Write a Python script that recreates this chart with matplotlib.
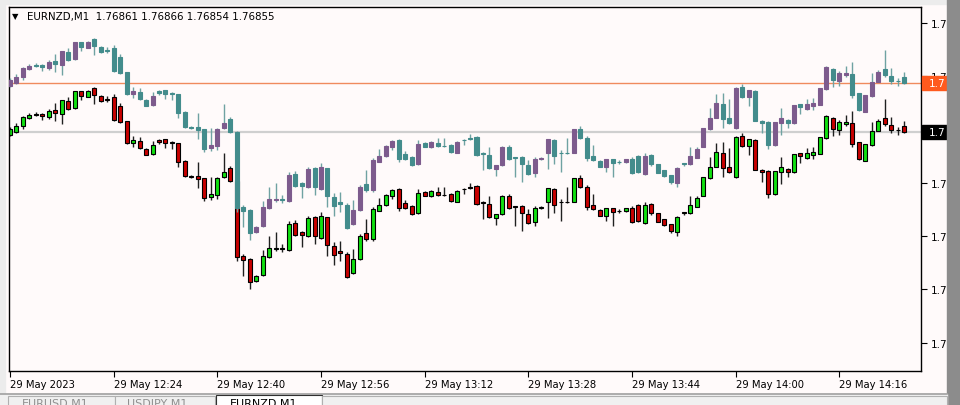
import numpy as np
import matplotlib.pyplot as plt
from matplotlib.patches import Rectangle
import matplotlib.transforms as mtransforms

W, H = 960, 406

# prices in points (0.00001) above 1.76000, one M1 bar per entry starting 12:08
# EURNZD (green / red candles)
lo_open = [852, 855, 861, 869, 873, 873, 870, 877, 873, 886,
           879, 896, 890, 899, 891, 888, 890, 881, 866, 844,
           846, 838, 833, 847, 848, 845, 844, 826, 811, 811,
           809, 790, 792, 810, 819, 806, 731, 728, 706, 712,
           730, 738, 739, 737, 764, 755, 751, 770, 749, 770,
           741, 736, 733, 714, 728, 754, 748, 776, 782, 791,
           798, 784, 781, 774, 795, 791, 795, 792, 793, 785,
           798, 800, 801, 785, 783, 769, 773, 791, 781, 781,
           773, 765, 779, 785, 798, 785, 785, 785, 809, 800,
           782, 777, 771, 779, 776, 776, 779, 782, 764, 783,
           774, 768, 763, 755, 775, 774, 780, 791, 809, 820,
           834, 820, 810, 851, 841, 847, 817, 816, 793, 815,
           818, 815, 834, 829, 832, 833, 849, 869, 857, 863,
           864, 845, 826, 842, 856, 869, 862, 857, 861]
lo_high = [860, 864, 871, 874, 875, 874, 878, 884, 887, 890,
           896, 896, 897, 900, 892, 891, 893, 884, 866, 851,
           850, 839, 846, 848, 848, 846, 844, 827, 812, 825,
           809, 810, 810, 834, 821, 807, 733, 729, 712, 737,
           751, 755, 743, 766, 767, 756, 771, 771, 775, 770,
           745, 746, 735, 738, 753, 768, 780, 789, 793, 798,
           799, 787, 782, 798, 796, 797, 800, 800, 794, 797,
           799, 804, 802, 786, 791, 773, 792, 793, 781, 782,
           778, 781, 781, 799, 799, 788, 800, 809, 812, 802,
           793, 778, 779, 779, 778, 779, 781, 783, 785, 784,
           774, 768, 763, 771, 775, 791, 791, 810, 830, 844,
           845, 839, 851, 854, 848, 848, 818, 817, 816, 830,
           819, 833, 834, 839, 840, 850, 872, 870, 867, 872,
           876, 845, 843, 865, 868, 888, 870, 860, 866]
lo_low = [851, 854, 858, 868, 871, 867, 868, 866, 863, 877,
          878, 887, 890, 883, 885, 885, 866, 864, 843, 840,
          838, 832, 832, 843, 839, 838, 820, 810, 809, 799,
          786, 787, 788, 809, 805, 726, 711, 698, 705, 711,
          729, 736, 735, 736, 751, 740, 750, 743, 748, 731,
          722, 726, 709, 713, 727, 746, 746, 776, 781, 788,
          776, 778, 772, 773, 791, 790, 791, 791, 785, 785,
          793, 798, 782, 768, 769, 762, 772, 778, 761, 756,
          763, 761, 778, 769, 774, 766, 784, 785, 799, 777,
          777, 771, 766, 761, 774, 775, 764, 765, 763, 772,
          765, 761, 754, 751, 772, 773, 780, 791, 808, 820,
          810, 814, 809, 840, 832, 817, 805, 789, 792, 803,
          810, 814, 824, 828, 828, 833, 848, 851, 852, 861,
          840, 827, 826, 841, 856, 861, 854, 852, 854]
lo_close = [858, 861, 870, 872, 872, 871, 876, 874, 887, 878,
            896, 891, 896, 892, 886, 887, 867, 865, 844, 847,
            839, 832, 842, 845, 844, 844, 825, 811, 810, 808,
            789, 793, 809, 815, 806, 730, 727, 705, 711, 731,
            739, 739, 738, 763, 752, 752, 769, 751, 771, 742,
            732, 734, 710, 728, 751, 748, 778, 782, 792, 797,
            779, 779, 773, 794, 791, 796, 792, 792, 786, 796,
            798, 799, 783, 784, 770, 773, 791, 779, 780, 774,
            764, 779, 780, 799, 782, 785, 785, 809, 800, 780,
            778, 771, 779, 775, 776, 779, 765, 766, 782, 774,
            765, 762, 756, 770, 774, 782, 789, 810, 820, 835,
            819, 815, 850, 841, 848, 817, 815, 793, 816, 820,
            815, 833, 831, 834, 835, 850, 871, 858, 865, 865,
            843, 828, 843, 856, 866, 863, 857, 857, 855]

# overlay symbol (purple / teal candles)
up_open = [901, 904, 910, 918, 922, 922, 919, 926, 922, 935,
           928, 945, 939, 948, 940, 937, 939, 930, 915, 893,
           895, 887, 882, 896, 897, 894, 893, 875, 860, 860,
           858, 839, 841, 859, 868, 855, 780, 777, 755, 761,
           779, 787, 788, 786, 813, 804, 800, 819, 798, 819,
           790, 785, 782, 763, 777, 803, 797, 825, 831, 840,
           847, 833, 830, 823, 844, 840, 844, 841, 842, 834,
           847, 849, 850, 834, 832, 818, 822, 840, 830, 830,
           822, 814, 828, 834, 847, 834, 834, 834, 858, 849,
           831, 826, 820, 828, 825, 825, 828, 831, 813, 832,
           823, 817, 812, 804, 824, 823, 829, 840, 858, 869,
           883, 869, 859, 900, 890, 896, 866, 865, 842, 864,
           867, 864, 883, 878, 881, 882, 898, 918, 906, 912,
           913, 894, 875, 891, 905, 918, 911, 906, 910]
up_high = [909, 913, 920, 923, 924, 923, 927, 933, 936, 939,
           945, 945, 946, 949, 941, 940, 942, 933, 915, 900,
           899, 888, 895, 897, 897, 895, 893, 876, 861, 874,
           858, 859, 859, 883, 870, 856, 782, 778, 761, 786,
           800, 804, 792, 815, 816, 805, 820, 820, 824, 819,
           794, 795, 784, 787, 802, 817, 829, 838, 842, 847,
           848, 836, 831, 847, 845, 846, 849, 849, 843, 846,
           848, 853, 851, 835, 840, 822, 841, 842, 830, 831,
           827, 830, 830, 848, 848, 837, 849, 858, 861, 851,
           842, 827, 828, 828, 827, 828, 830, 832, 834, 833,
           823, 817, 812, 820, 824, 840, 840, 859, 879, 893,
           894, 888, 900, 903, 897, 897, 867, 866, 865, 879,
           868, 882, 883, 888, 889, 899, 921, 919, 916, 921,
           925, 894, 892, 914, 917, 937, 919, 909, 915]
up_low = [900, 903, 907, 917, 920, 916, 917, 915, 912, 926,
          927, 936, 939, 932, 934, 934, 915, 913, 892, 889,
          887, 881, 881, 892, 888, 887, 869, 859, 858, 848,
          835, 836, 837, 858, 854, 775, 760, 747, 754, 760,
          778, 785, 784, 785, 800, 789, 799, 792, 797, 780,
          771, 775, 758, 762, 776, 795, 795, 825, 830, 837,
          825, 827, 821, 822, 840, 839, 840, 840, 834, 834,
          842, 847, 831, 817, 818, 811, 821, 827, 810, 805,
          812, 810, 827, 818, 823, 815, 833, 834, 848, 826,
          826, 820, 815, 810, 823, 824, 813, 814, 812, 821,
          814, 810, 803, 800, 821, 822, 829, 840, 857, 869,
          859, 863, 858, 889, 881, 866, 854, 838, 841, 852,
          859, 863, 873, 877, 877, 882, 897, 900, 901, 910,
          889, 876, 875, 890, 905, 910, 903, 901, 903]
up_close = [907, 910, 919, 921, 921, 920, 925, 923, 936, 927,
            945, 940, 945, 941, 935, 936, 916, 914, 893, 896,
            888, 881, 891, 894, 893, 893, 874, 860, 859, 857,
            838, 842, 858, 864, 855, 779, 776, 754, 760, 780,
            788, 788, 787, 812, 801, 801, 818, 800, 820, 791,
            781, 783, 759, 777, 800, 797, 827, 831, 841, 846,
            828, 828, 822, 843, 840, 845, 841, 841, 835, 845,
            847, 848, 832, 833, 819, 822, 840, 828, 829, 823,
            813, 828, 829, 848, 831, 834, 834, 858, 849, 829,
            827, 820, 828, 824, 825, 828, 814, 815, 831, 823,
            814, 811, 805, 819, 823, 831, 838, 859, 869, 884,
            868, 864, 899, 890, 897, 866, 864, 842, 865, 869,
            864, 882, 880, 883, 884, 899, 920, 907, 914, 914,
            892, 877, 892, 905, 915, 912, 906, 906, 904]

time_ticks = [0, 16, 32, 48, 64, 80, 96, 112, 128]
time_labels = ["29 May 2023", "29 May 12:24", "29 May 12:40", "29 May 12:56",
               "29 May 13:12", "29 May 13:28", "29 May 13:44", "29 May 14:00",
               "29 May 14:16"]
price_ticks = [644.3, 697.7, 751, 804.3, 857.7, 911, 964.3]
header = "EURNZD,M1  1.76861 1.76866 1.76854 1.76855"


def to_price(v):
    return 1.76 + np.array(v) / 1e5


fig = plt.figure(figsize=(W / 100, H / 100), dpi=100, facecolor='#fffafa')


def frect(x0, y0, x1, y1, **kw):
    fig.add_artist(Rectangle((x0 / W, 1 - y1 / H), (x1 - x0) / W, (y1 - y0) / H,
                             transform=fig.transFigure, **kw))


ax = fig.add_axes([9 / W, 1 - 372 / H, (921 - 9) / W, (372 - 8) / H])
ax.set_facecolor('#fffafa')


def candles(o, h, l, c, up_col, dn_col, wick_col, edge, z):
    o, h, l, c = to_price(o), to_price(h), to_price(l), to_price(c)
    x = np.arange(len(o))
    ax.vlines(x, l, h, color=wick_col, lw=1, zorder=z)
    cols = np.where(c > o, up_col, dn_col)
    ax.bar(x, np.abs(c - o), bottom=np.minimum(o, c), width=0.62, color=cols,
           edgecolor=edge if edge else cols, linewidth=0.8, zorder=z + 0.1)


# price lines
ax.axhline(to_price(lo_close[-1]), color='#cfcfcf', lw=1.6, zorder=1)
ax.axhline(to_price(up_close[-1]), color='#f08a5d', lw=1, zorder=1)

candles(lo_open, lo_high, lo_low, lo_close, '#10e010', '#c80000', '#202020', 'black', 2)
candles(up_open, up_high, up_low, up_close, '#7d5b8d', '#438c8c', '#6fa2a2', None, 3)

ax.set_xlim(-0.15, 140.6)
ax.set_ylim(to_price(616), to_price(980))
for s in ax.spines.values():
    s.set_color('black')
    s.set_linewidth(1)

ax.set_xticks(time_ticks)
ax.set_xticklabels(time_labels, ha='left', fontsize=7.2)
ax.yaxis.tick_right()
ax.set_yticks(to_price(price_ticks))
ax.set_yticklabels(['1.7'] * len(price_ticks), fontsize=7.5)
ax.tick_params(axis='x', direction='out', length=4, pad=2, colors='black')
ax.tick_params(axis='y', direction='out', length=4, pad=3, colors='black')

# price labels on the right scale
blend = mtransforms.blended_transform_factory(ax.transAxes, ax.transData)
for val, col in [(up_close[-1], '#ff5a1e'), (lo_close[-1], 'black')]:
    ax.add_patch(Rectangle((1.001, to_price(val - 7)), 25 / 912, 14 / 1e5,
                           transform=blend, color=col, clip_on=False, zorder=5))
    ax.text((929 - 9) / 912, to_price(val), '1.7', transform=blend, color='white',
            fontsize=7.5, va='center', ha='left', zorder=6, clip_on=False)

# header
fig.text(12 / W, 1 - 17 / H, '▼', fontsize=6, va='center', ha='left', color='black')
fig.text(27 / W, 1 - 17 / H, header, fontsize=7.4, va='center', ha='left', color='black')

# window chrome
frect(0, 0, W, 5, color='#ececec', zorder=0)
frect(0, 0, 5, 395, color='#ececec', zorder=0)
frect(947, 0, W, H, color='#8c8c8c', zorder=4)
frect(0, 395, 947, H, color='#f0f0f0', zorder=4)
fig.add_artist(plt.Line2D([0, 947 / W], [1 - 395 / H] * 2, transform=fig.transFigure,
                          color='#a0a0a0', lw=1.2, zorder=5))
frect(8, 397, 115, H + 2, facecolor='#f0f0f0', edgecolor='#b0b0b0', lw=0.8, zorder=5)
frect(115, 397, 215, H + 2, facecolor='#f0f0f0', edgecolor='#b0b0b0', lw=0.8, zorder=5)
frect(216, 396, 322, H + 2, facecolor='white', edgecolor='#303030', lw=0.8, zorder=5)
frect(322, 397, 947, H + 2, facecolor='#f0f0f0', edgecolor='#b0b0b0', lw=0.8, zorder=5)
for tx, label, col in [(22, 'EURUSD,M1', '#909090'), (127, 'USDJPY,M1', '#909090'),
                       (230, 'EURNZD,M1', 'black')]:
    fig.text(tx / W, 1 - 399 / H, label, fontsize=8, va='top', ha='left', color=col, zorder=6)

fig.savefig('out.png', dpi=100, facecolor=fig.get_facecolor())
